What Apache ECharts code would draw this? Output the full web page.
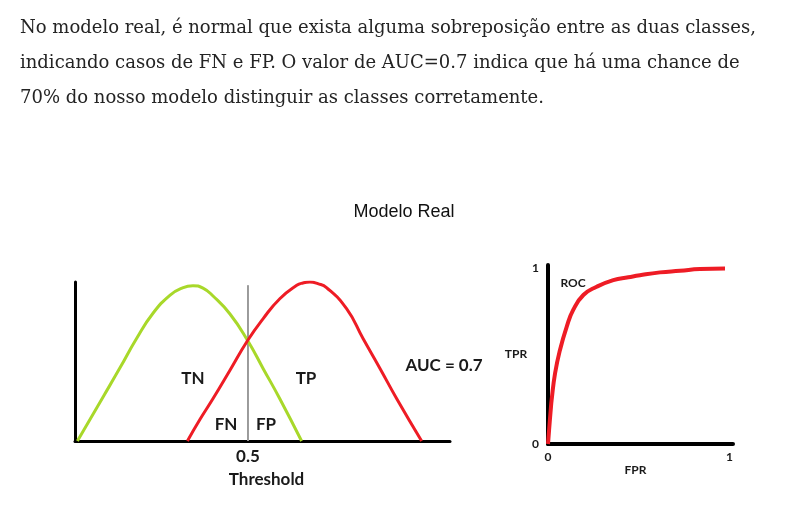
<!DOCTYPE html>
<html>
<head>
<meta charset="utf-8">
<script src="https://cdn.jsdelivr.net/npm/echarts@6/dist/echarts.min.js"></script>
<style>
html,body{margin:0;padding:0;background:#fff;}
#c{width:799px;height:519px;}
</style>
</head>
<body>
<div id="c"></div>
<script>
// Paragraph text
const paragraphLines = [
  'No modelo real, é normal que exista alguma sobreposição entre as duas classes,',
  'indicando casos de FN e FP. O valor de AUC=0.7 indica que há uma chance de',
  '70% do nosso modelo distinguir as classes corretamente.'
];
const chartTitle = 'Modelo Real';

// Left chart: score distributions (negative class = green, positive class = red)
const negX = [0.007, 0.082, 0.130, 0.178, 0.226, 0.275, 0.309, 0.341, 0.370, 0.399, 0.448, 0.499, 0.544, 0.592, 0.655];
const negY = [0, 0.28, 0.46, 0.645, 0.805, 0.918, 0.962, 0.977, 0.961, 0.912, 0.799, 0.632, 0.455, 0.266, 0];
const posX = [0.325, 0.361, 0.400, 0.448, 0.499, 0.544, 0.592, 0.641, 0.659, 0.679, 0.702, 0.727, 0.785, 0.833, 0.882, 0.930, 1.002];
const posY = [0, 0.135, 0.27, 0.445, 0.632, 0.77, 0.895, 0.979, 0.994, 1.0, 0.99, 0.965, 0.832, 0.643, 0.455, 0.266, 0];
const threshold = 0.5;
const thresholdTop = 0.98;
const thresholdLabel = 'Threshold';
const regionLabels = ['TN', 'TP', 'FN', 'FP'];
const aucLabel = 'AUC = 0.7';

// Right chart: ROC curve
const rocFPR = [0, 0.006, 0.015, 0.020, 0.039, 0.066, 0.103, 0.139, 0.195, 0.268, 0.360, 0.443, 0.507, 0.617, 0.728, 0.838, 0.976];
const rocTPR = [0, 0.08, 0.194, 0.251, 0.403, 0.536, 0.668, 0.764, 0.849, 0.896, 0.934, 0.950, 0.962, 0.978, 0.987, 0.997, 1.0];
const rocTicks = [0, 1];
const rocNames = {x: 'FPR', y: 'TPR', curve: 'ROC'};

const zip = (a, b) => a.map((v, i) => [v, b[i]]);
const chart = echarts.init(document.getElementById('c'), null, {renderer: 'canvas'});

const lblFont = {fontFamily: 'Lato', fontWeight: 'bold', fontSize: 17, fill: '#1a1a1a'};
const smallFont = {fontFamily: 'Lato', fontWeight: 'bold', fontSize: 12, fill: '#1a1a1a'};

function txt(text, x, y, style, align) {
  return {type: 'text', x: x, y: y, silent: true,
    style: Object.assign({text: text, textAlign: align || 'center', textVerticalAlign: 'middle'}, style)};
}

const paraStyle = {fontFamily: 'DejaVu Serif', fontSize: 18, fill: '#242424'};

chart.setOption({
  animation: false,
  backgroundColor: '#ffffff',
  grid: [
    {left: 75, top: 282, width: 375, height: 159, containLabel: false},
    {left: 548, top: 265, width: 185, height: 179, containLabel: false}
  ],
  xAxis: [
    {type: 'value', gridIndex: 0, min: 0, max: 1.084, interval: 0.5,
      axisLine: {show: true, lineStyle: {color: '#000', width: 3}},
      axisTick: {show: false}, splitLine: {show: false},
      axisLabel: {margin: 7, fontFamily: 'Lato', fontWeight: 'bold', fontSize: 17, color: '#1a1a1a',
        formatter: v => (Math.abs(v - threshold) < 1e-9 ? String(threshold) : '')},
      name: thresholdLabel, nameLocation: 'middle', nameGap: 30,
      nameTextStyle: {fontFamily: 'Lato', fontWeight: 'bold', fontSize: 17, color: '#1a1a1a', padding: [0, 0, 0, 8]}
    },
    {type: 'value', gridIndex: 1, min: 0, max: 1.02, interval: 1,
      axisLine: {show: true, lineStyle: {color: '#000', width: 4}},
      axisTick: {show: false}, splitLine: {show: false},
      axisLabel: {margin: 7, fontFamily: 'Lato', fontWeight: 'bold', fontSize: 12, color: '#1a1a1a',
        formatter: v => (rocTicks.indexOf(v) >= 0 ? String(v) : '')},
      name: rocNames.x, nameLocation: 'middle', nameGap: 11,
      nameTextStyle: {fontFamily: 'Lato', fontWeight: 'bold', fontSize: 12, color: '#1a1a1a', padding: [0, 10, 0, 0]}
    }
  ],
  yAxis: [
    {type: 'value', gridIndex: 0, min: 0, max: 1,
      axisLine: {show: true, lineStyle: {color: '#000', width: 3}},
      axisTick: {show: false}, splitLine: {show: false}, axisLabel: {show: false}},
    {type: 'value', gridIndex: 1, min: 0, max: 1.02, interval: 1,
      axisLine: {show: true, lineStyle: {color: '#000', width: 4}},
      axisTick: {show: false}, splitLine: {show: false},
      axisLabel: {margin: 9, fontFamily: 'Lato', fontWeight: 'bold', fontSize: 12, color: '#1a1a1a',
        formatter: v => (rocTicks.indexOf(v) >= 0 ? String(v) : '')},
      name: rocNames.y, nameLocation: 'middle', nameGap: 14, nameRotate: 0,
      nameTextStyle: {fontFamily: 'Lato', fontWeight: 'bold', fontSize: 12, color: '#1a1a1a'}
    }
  ],
  series: [
    {type: 'line', xAxisIndex: 0, yAxisIndex: 0, z: 1, showSymbol: false, silent: true,
      data: [[threshold, 0], [threshold, thresholdTop]],
      lineStyle: {color: '#9a9a9a', width: 2}},
    {type: 'line', xAxisIndex: 0, yAxisIndex: 0, z: 2, showSymbol: false, smooth: 0.5, silent: true,
      data: zip(negX, negY), lineStyle: {color: '#a8d82a', width: 3}},
    {type: 'line', xAxisIndex: 0, yAxisIndex: 0, z: 3, showSymbol: false, smooth: 0.5, silent: true,
      data: zip(posX, posY), lineStyle: {color: '#ee1c25', width: 3}},
    {type: 'line', xAxisIndex: 1, yAxisIndex: 1, z: 3, showSymbol: false, smooth: 0.5, silent: true,
      data: zip(rocFPR, rocTPR), lineStyle: {color: '#ee1c25', width: 4}}
  ],
  graphic: [
    txt(paragraphLines[0], 20, 28.5, paraStyle, 'left'),
    txt(paragraphLines[1], 20, 63, paraStyle, 'left'),
    txt(paragraphLines[2], 20, 98.5, paraStyle, 'left'),
    txt(chartTitle, 404, 212, {fontFamily: 'Liberation Sans', fontSize: 18, fill: '#111'}),
    txt(regionLabels[0], 193, 379, lblFont),
    txt(regionLabels[1], 306, 379, lblFont),
    txt(regionLabels[2], 226, 425, lblFont),
    txt(regionLabels[3], 266, 425, lblFont),
    txt(aucLabel, 444, 366, lblFont),
    txt(rocNames.curve, 573, 283, smallFont)
  ]
});
</script>
</body>
</html>
